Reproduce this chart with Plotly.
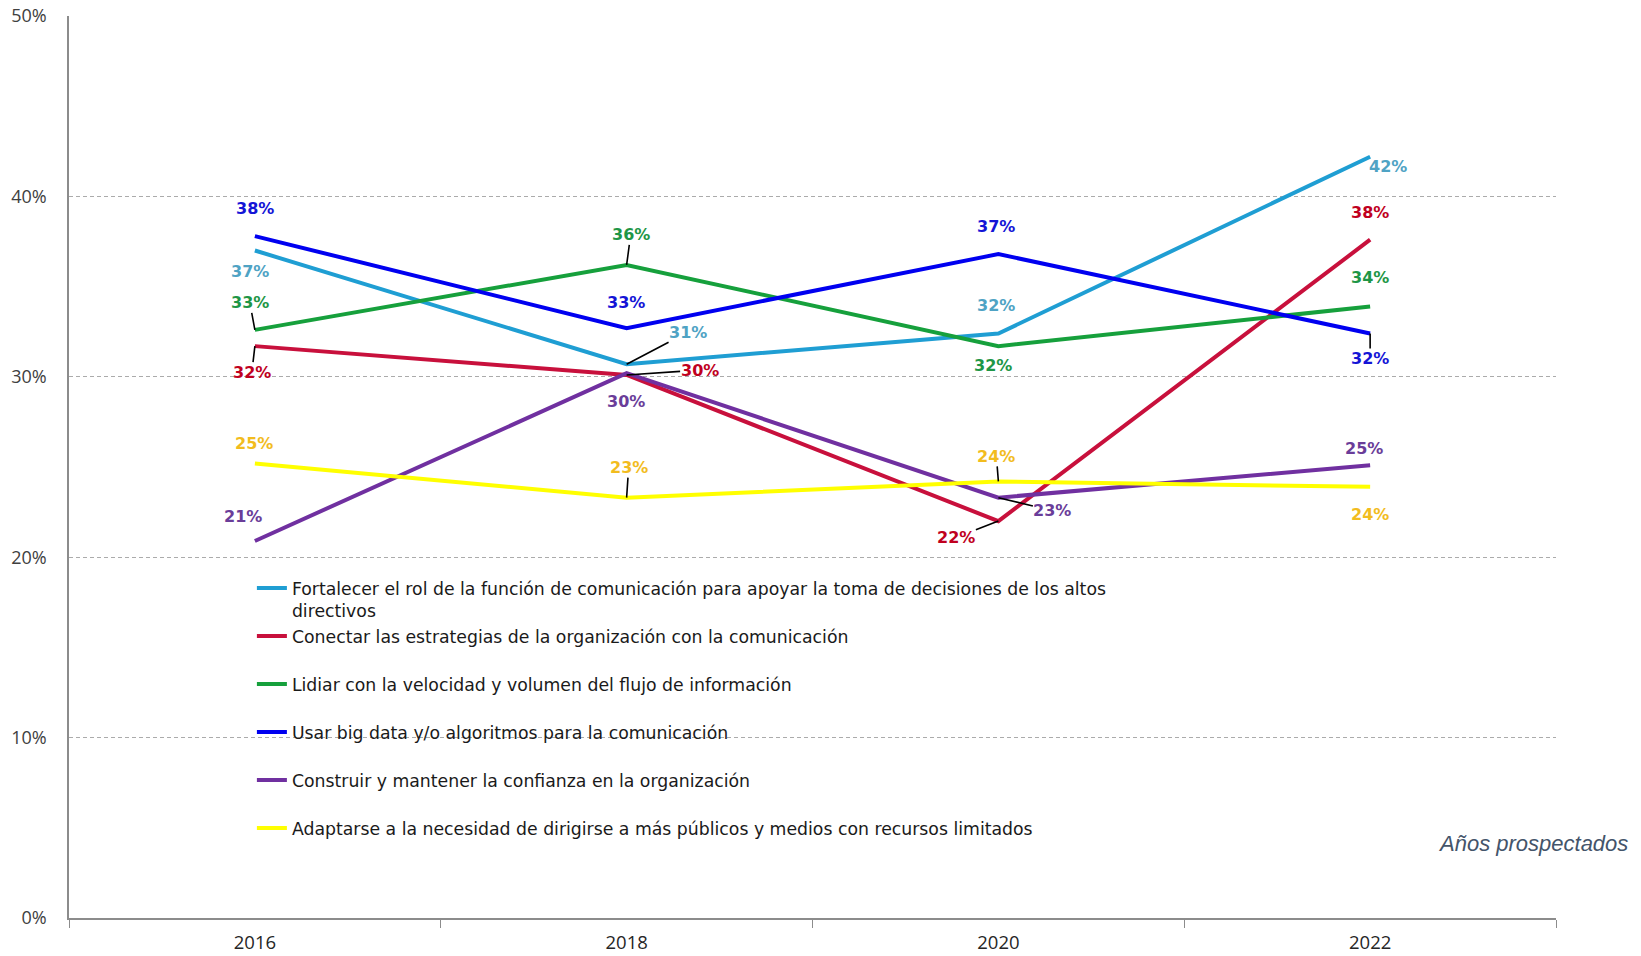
import plotly.graph_objects as go

# Survey years (categorical x axis)
years = ["2016", "2018", "2020", "2022"]

# Share of respondents per challenge and year
fortalecer = [0.370, 0.307, 0.324, 0.422]
conectar = [0.317, 0.301, 0.220, 0.376]
lidiar = [0.326, 0.362, 0.317, 0.339]
usar_big_data = [0.378, 0.327, 0.368, 0.324]
construir = [0.209, 0.302, 0.233, 0.251]
adaptarse = [0.252, 0.233, 0.242, 0.239]

series_names = [
    "Fortalecer el rol de la función de comunicación para apoyar la toma de decisiones de los altos<br>directivos",
    "Conectar las estrategias de la organización con la comunicación",
    "Lidiar con la velocidad y volumen del flujo de información",
    "Usar big data y/o algoritmos para la comunicación",
    "Construir y mantener la confianza en la organización",
    "Adaptarse a la necesidad de dirigirse a más públicos y medios con recursos limitados",
]
series_values = [fortalecer, conectar, lidiar, usar_big_data, construir, adaptarse]

y_ticks = [0, 0.1, 0.2, 0.3, 0.4, 0.5]
x_axis_note = "Años prospectados"

# Styling
line_colors = ["#1F9ED3", "#C8103C", "#16A03C", "#0000F0", "#7030A0", "#FFFF00"]
label_colors = ["#4FA3C4", "#C0001E", "#1E9646", "#1414D6", "#6A3D99", "#F2BC1E"]

# Label placement per point: (dx, dy, draw leader line)
label_layout = [
    [(-5, 21, False), (61, -32, True), (-2, -28, False), (18, 10, False)],
    [(-3, 26, True), (73, -5, True), (-42, 16, True), (0, -27, False)],
    [(-5, -27, True), (4, -30, True), (-5, 19, False), (0, -29, False)],
    [(0, -28, False), (-1, -26, False), (-2, -28, False), (0, 25, True)],
    [(-12, -24, False), (-1, 28, False), (54, 13, True), (-6, -17, False)],
    [(-1, -20, False), (2, -30, True), (-2, -25, True), (0, 28, False)],
]

fig = go.Figure()

for name, vals, color in zip(series_names, series_values, line_colors):
    # pad single-line names so every legend entry has the same height
    legend_name = name if "<br>" in name else name + "<br> "
    fig.add_trace(go.Scatter(
        x=years, y=vals, mode="lines", name=legend_name,
        line=dict(color=color, width=4),
        hoverinfo="skip",
    ))

annotations = []
for vals, lcolor, placements in zip(series_values, label_colors, label_layout):
    for idx, (v, (dx, dy, leader)) in enumerate(zip(vals, placements)):
        # category axes take the serial index of the category
        annotations.append(dict(
            x=idx, y=v, xref="x", yref="y",
            text=f"<b>{v:.0%}</b>",
            font=dict(family="DejaVu Sans", size=16, color=lcolor),
            showarrow=True, arrowhead=0, arrowwidth=1.6,
            arrowcolor="#000000" if leader else "rgba(0,0,0,0)",
            ax=dx, ay=dy,
            borderpad=0,
        ))

annotations.append(dict(
    x=1.0499, y=0.083, xref="paper", yref="paper",
    xanchor="right", yanchor="middle", showarrow=False,
    text=f"<i>{x_axis_note}</i>",
    font=dict(family="Liberation Sans", size=22, color="#44546A"),
))

fig.update_layout(
    width=1641, height=956,
    margin=dict(l=69, r=85, t=16, b=38, autoexpand=False),
    paper_bgcolor="white", plot_bgcolor="white",
    showlegend=True,
    legend=dict(
        x=0.123, y=0.3855, xanchor="left", yanchor="top",
        bgcolor="rgba(0,0,0,0)", borderwidth=0,
        font=dict(family="DejaVu Sans", size=17.3, color="#1A1A1A"),
        valign="top", tracegroupgap=0,
    ),
    annotations=annotations,
)

fig.update_xaxes(
    type="category", range=[-0.5, 3.5], automargin=False,
    showline=True, linecolor="#8C8C8C", linewidth=2,
    ticks="outside", tickson="boundaries", ticklen=8, tickcolor="#8C8C8C", tickwidth=1,
    showgrid=False, zeroline=False,
    tickfont=dict(family="Open Sans", size=18.5, color="#262626"),
    ticklabelstandoff=7,
)

fig.update_yaxes(
    range=[0, 0.5], tickvals=y_ticks, tickformat=".0%", automargin=False,
    showline=True, linecolor="#8C8C8C", linewidth=1.5,
    ticks="", showgrid=True, gridcolor="#ABABAB", gridwidth=1, griddash="4px,3px",
    zeroline=False,
    tickfont=dict(family="Open Sans", size=18, color="#404040"),
    ticklabelstandoff=17,
)

fig.write_html("out.html")
